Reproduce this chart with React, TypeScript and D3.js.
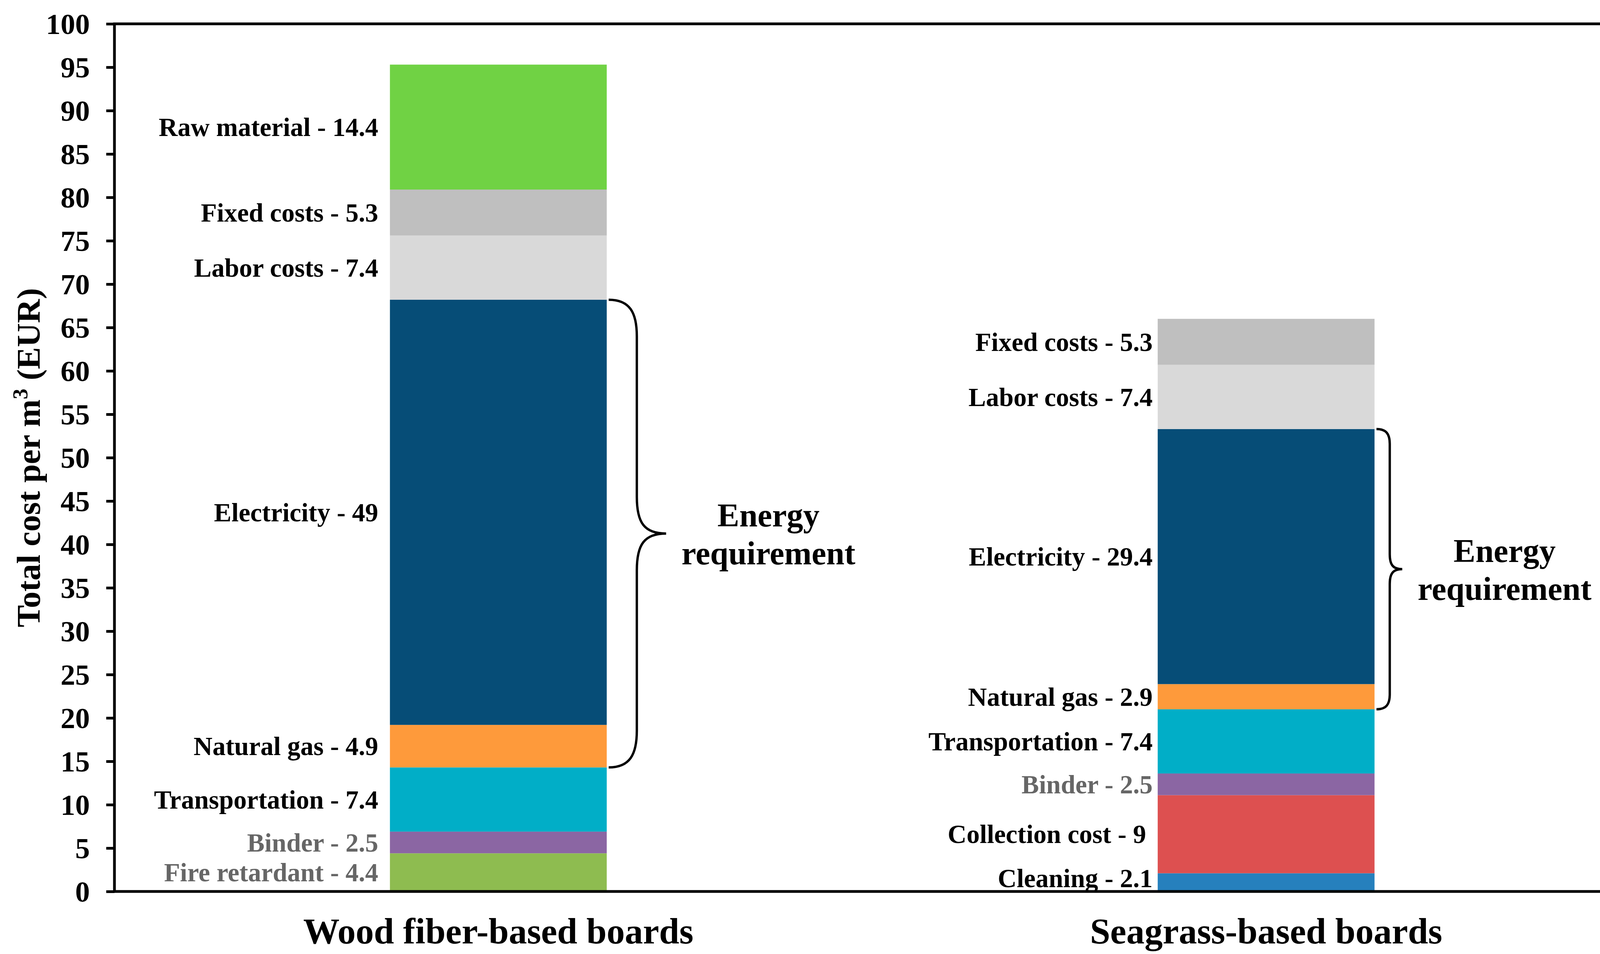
import { useEffect, useRef } from 'react';
import * as d3 from 'd3';

const categories = ['Wood fiber-based boards', 'Seagrass-based boards'];

const woodItems = ['Fire retardant', 'Binder', 'Transportation', 'Natural gas', 'Electricity', 'Labor costs', 'Fixed costs', 'Raw material'];
const woodValues = [4.4, 2.5, 7.4, 4.9, 49, 7.4, 5.3, 14.4];

const seagrassItems = ['Cleaning', 'Collection cost', 'Binder', 'Transportation', 'Natural gas', 'Electricity', 'Labor costs', 'Fixed costs'];
const seagrassValues = [2.1, 9, 2.5, 7.4, 2.9, 29.4, 7.4, 5.3];

const energyItems = ['Natural gas', 'Electricity'];
const yTickValues = [0, 5, 10, 15, 20, 25, 30, 35, 40, 45, 50, 55, 60, 65, 70, 75, 80, 85, 90, 95, 100];

const itemColors: Record<string, string> = {
  'Raw material': '#70D244',
  'Fixed costs': '#BFBFBF',
  'Labor costs': '#D9D9D9',
  'Electricity': '#064D77',
  'Natural gas': '#FE9A3B',
  'Transportation': '#01AEC7',
  'Binder': '#8B66A3',
  'Fire retardant': '#8EBC50',
  'Collection cost': '#DD5050',
  'Cleaning': '#2680BD',
};
const greyLabels = ['Binder', 'Fire retardant'];

// per-bar styling: label gap, brace bulge width, tip width, curve height
const barStyle = [
  { gap: 30, w1: 72, w2: 147, r: 94 },
  { gap: 13, w1: 34, w2: 66, r: 38 },
];

const FONT = "'Liberation Serif', 'Times New Roman', serif";

export default function App() {
  const svgRef = useRef<SVGSVGElement>(null);
  const width = 4263;
  const height = 2441;

  useEffect(() => {
    if (!svgRef.current) return;
    d3.select(svgRef.current).selectAll('*').remove();

    const margin = { top: 61, right: 39, bottom: 160, left: 293 };
    const innerWidth = width - margin.left - margin.right;
    const innerHeight = height - margin.top - margin.bottom;

    const svg = d3.select(svgRef.current);
    svg.append('rect').attr('width', width).attr('height', height).attr('fill', '#fff');

    const g = svg.append('g').attr('transform', `translate(${margin.left},${margin.top})`);

    const x = d3.scaleBand<string>()
      .domain(categories)
      .range([0, innerWidth])
      .paddingInner(0.7176)
      .paddingOuter(0.3588);

    const y = d3.scaleLinear().domain([0, 100]).range([innerHeight, 0]);

    const stacks = [
      { cat: categories[0], items: woodItems, values: woodValues },
      { cat: categories[1], items: seagrassItems, values: seagrassValues },
    ];

    stacks.forEach((s, si) => {
      let acc = 0;
      const segs = s.items.map((name, i) => {
        const y0 = acc;
        acc += s.values[i];
        return { name, value: s.values[i], y0, y1: acc };
      });
      const x0 = x(s.cat) as number;
      const bw = x.bandwidth();
      const { gap, w1, w2, r } = barStyle[si];

      g.selectAll(null)
        .data(segs)
        .enter()
        .append('rect')
        .attr('x', x0)
        .attr('width', bw)
        .attr('y', d => y(d.y1))
        .attr('height', d => y(d.y0) - y(d.y1))
        .attr('fill', d => itemColors[d.name]);

      g.selectAll(null)
        .data(segs)
        .enter()
        .append('text')
        .attr('x', x0 - gap)
        .attr('y', d => Math.min(y((d.y0 + d.y1) / 2), y(0) - 34))
        .attr('text-anchor', 'end')
        .attr('dominant-baseline', 'central')
        .attr('font-family', FONT)
        .attr('font-weight', 'bold')
        .attr('font-size', 67)
        .style('white-space', 'pre')
        .attr('fill', d => (greyLabels.includes(d.name) ? '#666666' : '#000'))
        .text(d => `${d.name} - ${d.value}` + (d.name === 'Collection cost' ? ' ' : ''));

      // curly brace around energy items
      const energy = segs.filter(d => energyItems.includes(d.name));
      const top = y(d3.max(energy, d => d.y1) as number);
      const bot = y(d3.min(energy, d => d.y0) as number);
      const mid = (top + bot) / 2;
      const bx = x0 + bw + 5;
      const p = d3.path();
      p.moveTo(bx, top);
      p.bezierCurveTo(bx + w1 * 0.75, top, bx + w1, top + r * 0.35, bx + w1, top + r);
      p.lineTo(bx + w1, mid - r);
      p.bezierCurveTo(bx + w1, mid - r * 0.3, bx + w1 + (w2 - w1) * 0.25, mid, bx + w2, mid);
      p.bezierCurveTo(bx + w1 + (w2 - w1) * 0.25, mid, bx + w1, mid + r * 0.3, bx + w1, mid + r);
      p.lineTo(bx + w1, bot - r);
      p.bezierCurveTo(bx + w1, bot - r * 0.35, bx + w1 * 0.75, bot, bx, bot);
      g.append('path')
        .attr('d', p.toString())
        .attr('fill', 'none')
        .attr('stroke', '#000')
        .attr('stroke-width', 6);

      const tx = bx + w2 + 262;
      const et = g.append('text')
        .attr('text-anchor', 'middle')
        .attr('font-family', FONT)
        .attr('font-weight', 'bold')
        .attr('font-size', 84)
        .attr('fill', '#000');
      et.append('tspan').attr('x', tx).attr('y', mid - 18).text('Energy');
      et.append('tspan').attr('x', tx).attr('y', mid + 79).text('requirement');
    });

    // y axis
    const yAxis = g.append('g')
      .call(d3.axisLeft(y).tickValues(yTickValues).tickSize(21).tickPadding(42).tickFormat(d3.format('d')));
    yAxis.select('.domain').remove();
    yAxis.selectAll('line').attr('stroke', '#000').attr('stroke-width', 7);
    yAxis.selectAll('text')
      .attr('font-family', FONT)
      .attr('font-weight', 'bold')
      .attr('font-size', 75)
      .attr('fill', '#000')
      .attr('dy', '0.34em');

    // frame
    g.append('rect')
      .attr('x', 0)
      .attr('y', 0)
      .attr('width', innerWidth)
      .attr('height', innerHeight)
      .attr('fill', 'none')
      .attr('stroke', '#000')
      .attr('stroke-width', 7);

    // x category labels
    g.selectAll(null)
      .data(categories)
      .enter()
      .append('text')
      .attr('x', d => (x(d) as number) + x.bandwidth() / 2)
      .attr('y', innerHeight + 133)
      .attr('text-anchor', 'middle')
      .attr('font-family', FONT)
      .attr('font-weight', 'bold')
      .attr('font-size', 93)
      .attr('fill', '#000')
      .text(d => d);

    // y title
    const yt = svg.append('text')
      .attr('transform', `translate(${102},${margin.top + innerHeight / 2}) rotate(-90)`)
      .attr('text-anchor', 'middle')
      .attr('font-family', FONT)
      .attr('font-weight', 'bold')
      .attr('font-size', 85)
      .attr('fill', '#000');
    yt.append('tspan').text('Total cost per m');
    yt.append('tspan').attr('font-size', 55).attr('dy', -32).text('3');
    yt.append('tspan').attr('dy', 32).text(' (EUR)');
  }, []);

  return (
    <svg
      ref={svgRef}
      width={width}
      height={height}
      style={{ position: 'absolute', left: 0, top: 0, display: 'block' }}
    />
  );
}
